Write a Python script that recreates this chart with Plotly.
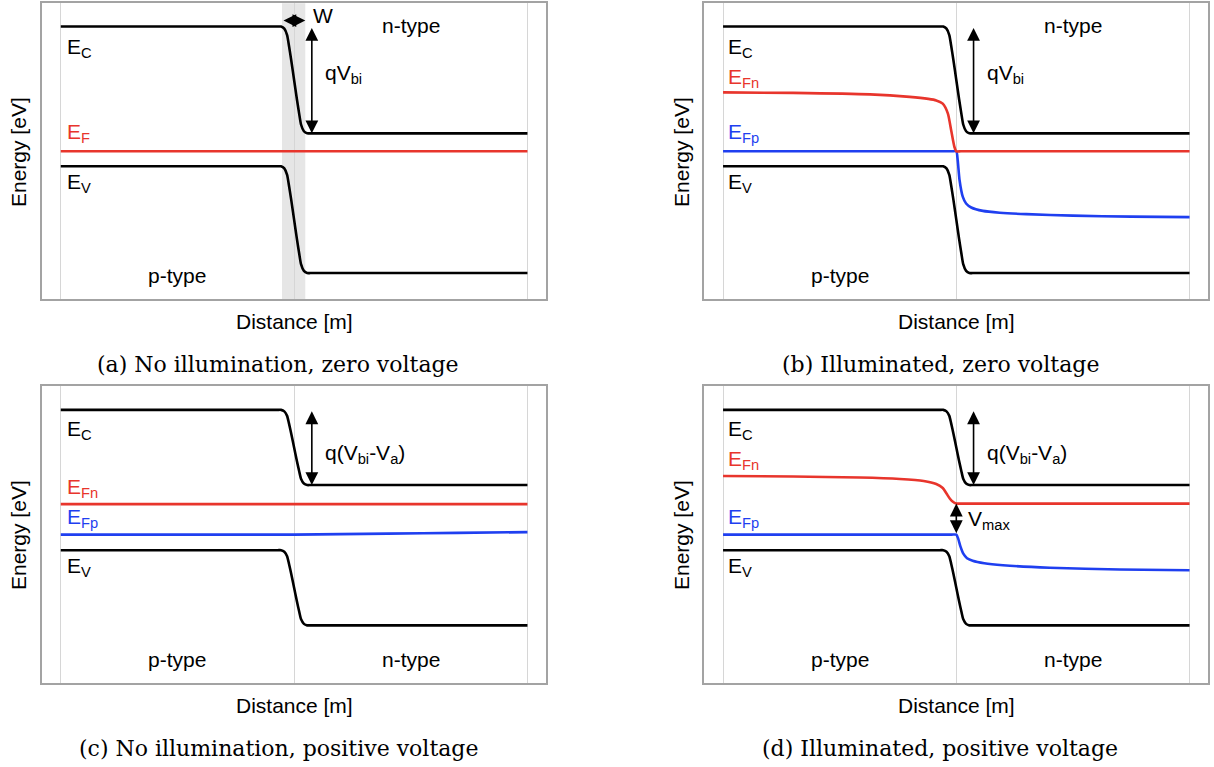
import plotly.graph_objects as go

W_PX, H_PX = 1214, 767

# ---- band-diagram data (distance normalised 0..1, energy in eV, arbitrary zero) ----
x_step = [0, 0.45, 0.465, 0.472, 0.479, 0.485, 0.489, 0.494, 0.5,
          0.506, 0.511, 0.515, 0.521, 0.528, 0.535, 0.55, 1]

# zero voltage bands (a, b)
ec_zero = [1.25, 1.25, 1.25, 1.25, 1.229, 1.164, 1.057, 0.908, 0.715,
           0.522, 0.373, 0.266, 0.201, 0.18, 0.18, 0.18, 0.18]
ev_zero = [-0.15, -0.15, -0.15, -0.15, -0.171, -0.236, -0.343, -0.492, -0.685,
           -0.878, -1.027, -1.134, -1.199, -1.22, -1.22, -1.22, -1.22]

# forward biased bands (c, d)
ec_bias = [1.245, 1.245, 1.245, 1.245, 1.23, 1.185, 1.11, 1.005, 0.87,
           0.735, 0.63, 0.555, 0.51, 0.495, 0.495, 0.495, 0.495]
ev_bias = [-0.155, -0.155, -0.155, -0.155, -0.17, -0.215, -0.29, -0.395, -0.53,
           -0.665, -0.77, -0.845, -0.89, -0.905, -0.905, -0.905, -0.905]

# (a) single Fermi level
x_ef_a = [0, 1]
ef_a = [0, 0]

# (b) quasi-Fermi levels, illuminated, zero voltage
x_efn_b = [0, 0.15, 0.315, 0.4, 0.44, 0.457, 0.471, 0.482, 0.489, 0.496, 0.5, 0.51, 0.55, 1]
efn_b = [0.59, 0.585, 0.57, 0.545, 0.525, 0.51, 0.477, 0.377, 0.21, 0.043, 0, 0, 0, 0]
x_efp_b = [0, 0.45, 0.49, 0.5, 0.503, 0.507, 0.514, 0.521, 0.532, 0.557, 0.593, 0.65, 0.75, 0.875, 1]
efp_b = [0, 0, 0, 0, -0.09, -0.29, -0.457, -0.523, -0.563, -0.597, -0.615, -0.63, -0.645, -0.655, -0.66]

# (c) quasi-Fermi levels, dark, forward bias
x_efn_c = [0, 1]
efn_c = [0.305, 0.305]
x_efp_c = [0, 0.45, 0.5, 0.6, 0.7, 0.85, 1]
efp_c = [0, 0, 0, 0.005, 0.01, 0.018, 0.025]

# (d) quasi-Fermi levels, illuminated, forward bias
x_efn_d = [0, 0.15, 0.293, 0.379, 0.43, 0.457, 0.471, 0.479, 0.486, 0.492, 0.5, 0.51, 0.55, 1]
efn_d = [0.585, 0.58, 0.57, 0.555, 0.535, 0.505, 0.465, 0.41, 0.36, 0.33, 0.31, 0.31, 0.31, 0.31]
x_efp_d = [0, 0.45, 0.49, 0.5, 0.504, 0.509, 0.515, 0.523, 0.535, 0.56, 0.6, 0.7, 0.85, 1]
efp_d = [0, 0, 0, 0, -0.04, -0.12, -0.19, -0.235, -0.26, -0.285, -0.305, -0.33, -0.348, -0.355]

# depletion region width in (a)
depletion = [0.474, 0.524]

captions = [
    "(a) No illumination, zero voltage",
    "(b) Illuminated, zero voltage",
    "(c) No illumination, positive voltage",
    "(d) Illuminated, positive voltage",
]

RED = "#e8352c"
BLUE = "#1f3ff0"
BLACK = "#000000"
SANS = "Liberation Sans, Arial, sans-serif"
SERIF = "DejaVu Serif, serif"
FS = 21

# panel frames in pixels: (left, right, top, bottom)
frames = [
    (42.1, 546.1, 3.3, 299.3),
    (704.4, 1208.2, 3.3, 299.3),
    (42.1, 546.1, 386.0, 683.3),
    (704.4, 1208.2, 386.0, 683.3),
]

fig = go.Figure()
layout = {}
for i, (l, r, t, b) in enumerate(frames):
    n = "" if i == 0 else str(i + 1)
    layout["xaxis" + n] = dict(
        domain=[l / W_PX, r / W_PX], anchor="y" + n, range=[-0.04, 1.04],
        showgrid=True, gridcolor="#d6d6d6", gridwidth=1, tickvals=[0, 0.5, 1],
        showticklabels=False, ticks="", zeroline=False, showline=True, mirror=True,
        linecolor="#a3a3a3", linewidth=1.5, fixedrange=True,
    )
    layout["yaxis" + n] = dict(
        domain=[1 - b / H_PX, 1 - t / H_PX], anchor="x" + n, range=[-1.483, 1.483],
        showgrid=False, showticklabels=False, ticks="", zeroline=False, showline=True,
        mirror=True, linecolor="#a3a3a3", linewidth=1.5, fixedrange=True,
    )


def add_line(ax, xs, ys, color):
    n = "" if ax == 1 else str(ax)
    fig.add_trace(go.Scatter(
        x=xs, y=ys, mode="lines", xaxis="x" + n, yaxis="y" + n,
        line=dict(color=color, width=2.6, shape="spline", smoothing=0.6),
        hoverinfo="skip", showlegend=False,
    ))


# bands
for ax, ec, ev in [(1, ec_zero, ev_zero), (2, ec_zero, ev_zero), (3, ec_bias, ev_bias), (4, ec_bias, ev_bias)]:
    add_line(ax, x_step, ec, BLACK)
    add_line(ax, x_step, ev, BLACK)

add_line(1, x_ef_a, ef_a, RED)
add_line(2, x_efp_b, efp_b, BLUE)
add_line(2, x_efn_b, efn_b, RED)
add_line(3, x_efp_c, efp_c, BLUE)
add_line(3, x_efn_c, efn_c, RED)
add_line(4, x_efp_d, efp_d, BLUE)
add_line(4, x_efn_d, efn_d, RED)

annotations = []
shapes = []

# shaded depletion region
shapes.append(dict(type="rect", xref="x", yref="y domain", x0=depletion[0], x1=depletion[1],
                   y0=0, y1=1, fillcolor="#e6e6e6", line_width=0, layer="below"))


def label(ax, x, y, text, color=BLACK, xanchor="left"):
    n = "" if ax == 1 else str(ax)
    annotations.append(dict(x=x, y=y, xref="x" + n, yref="y" + n, text=text, showarrow=False,
                            xanchor=xanchor, yanchor="middle",
                            font=dict(family=SANS, size=FS, color=color)))


def arrow(ax, x0, y0, x1, y1):
    n = "" if ax == 1 else str(ax)
    annotations.append(dict(x=x1, y=y1, ax=x0, ay=y0, xref="x" + n, yref="y" + n,
                            axref="x" + n, ayref="y" + n, text="", showarrow=True,
                            arrowhead=2, arrowside="end+start", arrowsize=1.6,
                            arrowwidth=1.6, arrowcolor=BLACK, standoff=0, startstandoff=0))


# (a)
label(1, 0.008, 1.04, "E<sub>C</sub>")
label(1, 0.008, 0.18, "E<sub>F</sub>", RED)
label(1, 0.008, -0.32, "E<sub>V</sub>")
label(1, 0.25, -1.24, "p-type", xanchor="center")
label(1, 0.75, 1.26, "n-type", xanchor="center")
label(1, 0.536, 1.36, "W")
label(1, 0.562, 0.77, "qV<sub>bi</sub>")
arrow(1, depletion[0], 1.31, depletion[1], 1.31)
arrow(1, 0.538, ec_zero[0], 0.538, ec_zero[-1])

# (b)
label(2, 0.006, 1.04, "E<sub>C</sub>")
label(2, 0.006, 0.73, "E<sub>Fn</sub>", RED)
label(2, 0.006, 0.18, "E<sub>Fp</sub>", BLUE)
label(2, 0.006, -0.32, "E<sub>V</sub>")
label(2, 0.25, -1.24, "p-type", xanchor="center")
label(2, 0.75, 1.26, "n-type", xanchor="center")
label(2, 0.562, 0.77, "qV<sub>bi</sub>")
arrow(2, 0.537, ec_zero[0], 0.537, ec_zero[-1])

# (c)
label(3, 0.008, 1.045, "E<sub>C</sub>")
label(3, 0.008, 0.465, "E<sub>Fn</sub>", RED)
label(3, 0.008, 0.165, "E<sub>Fp</sub>", BLUE)
label(3, 0.008, -0.325, "E<sub>V</sub>")
label(3, 0.25, -1.245, "p-type", xanchor="center")
label(3, 0.75, -1.245, "n-type", xanchor="center")
label(3, 0.562, 0.8, "q(V<sub>bi</sub>-V<sub>a</sub>)")
arrow(3, 0.538, ec_bias[0], 0.538, ec_bias[-1])

# (d)
label(4, 0.006, 1.045, "E<sub>C</sub>")
label(4, 0.006, 0.745, "E<sub>Fn</sub>", RED)
label(4, 0.006, 0.165, "E<sub>Fp</sub>", BLUE)
label(4, 0.006, -0.325, "E<sub>V</sub>")
label(4, 0.25, -1.245, "p-type", xanchor="center")
label(4, 0.75, -1.245, "n-type", xanchor="center")
label(4, 0.562, 0.8, "q(V<sub>bi</sub>-V<sub>a</sub>)")
label(4, 0.52, 0.145, "V<sub>max</sub>")
arrow(4, 0.537, ec_bias[0], 0.537, ec_bias[-1])
arrow(4, 0.5, efp_d[0], 0.5, efn_d[-1])

# axis titles and captions
ylab_x = [18, 681, 18, 681]
ylab_y = [152, 152, 535, 535]
xlab_x = [294.5, 956.7, 294.5, 956.7]
xlab_y = [322, 322, 705, 705]
cap_x = [278, 940, 278, 940]
cap_y = [364, 364, 748, 748]
for i in range(4):
    annotations.append(dict(x=ylab_x[i] / W_PX, y=1 - ylab_y[i] / H_PX, xref="paper", yref="paper",
                            text="Energy [eV]", textangle=-90, showarrow=False,
                            xanchor="center", yanchor="middle",
                            font=dict(family=SANS, size=FS, color=BLACK)))
    annotations.append(dict(x=xlab_x[i] / W_PX, y=1 - xlab_y[i] / H_PX, xref="paper", yref="paper",
                            text="Distance [m]", showarrow=False, xanchor="center", yanchor="middle",
                            font=dict(family=SANS, size=FS, color=BLACK)))
    annotations.append(dict(x=cap_x[i] / W_PX, y=1 - cap_y[i] / H_PX, xref="paper", yref="paper",
                            text=captions[i], showarrow=False, xanchor="center", yanchor="middle",
                            font=dict(family=SERIF, size=22, color=BLACK)))

fig.update_layout(
    width=W_PX, height=H_PX, margin=dict(l=0, r=0, t=0, b=0),
    paper_bgcolor="white", plot_bgcolor="white", showlegend=False,
    annotations=annotations, shapes=shapes, **layout,
)

fig.write_html("out.html", config={"displayModeBar": False})
